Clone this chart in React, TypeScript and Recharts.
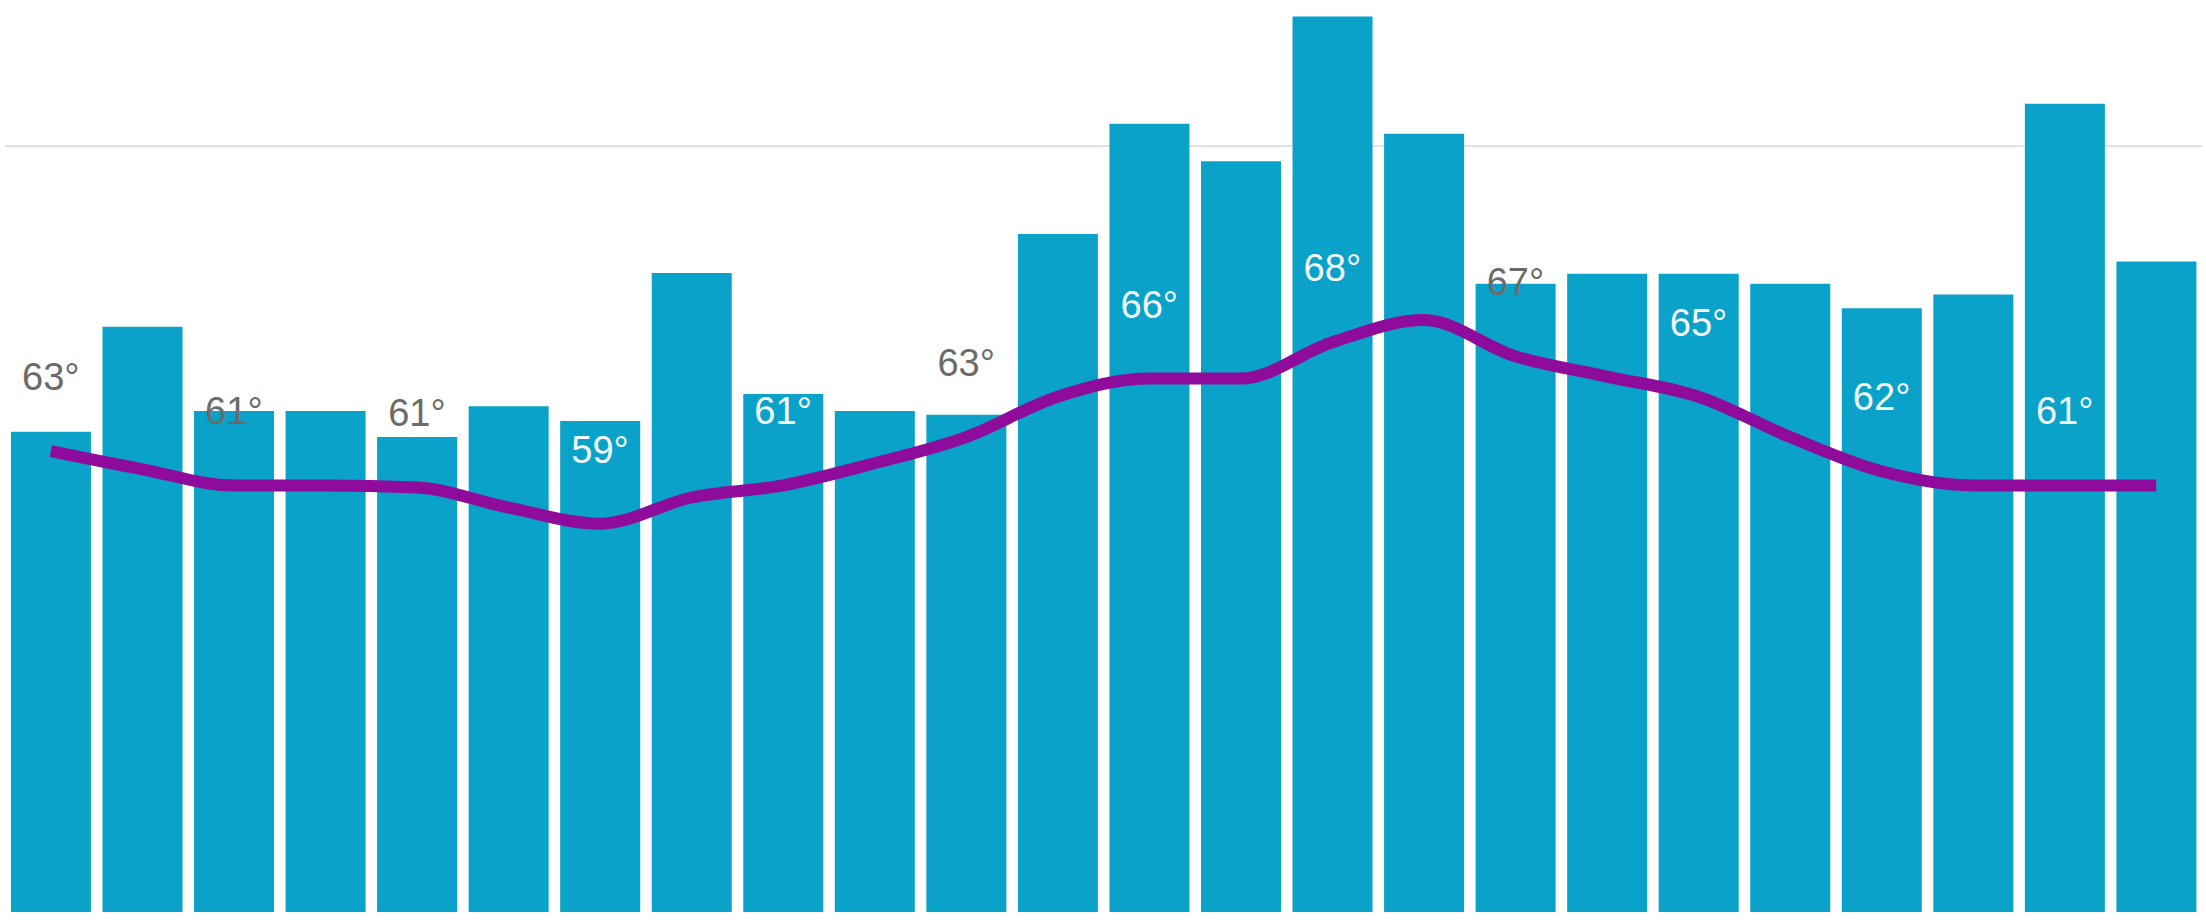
import { ComposedChart, Bar, Line, XAxis, YAxis, CartesianGrid, LabelList } from 'recharts';

// hourly categories (no axis shown in the picture)
const hours = [
  '1 PM', '2 PM', '3 PM', '4 PM', '5 PM', '6 PM', '7 PM', '8 PM', '9 PM', '10 PM', '11 PM', '12 AM',
  '1 AM', '2 AM', '3 AM', '4 AM', '5 AM', '6 AM', '7 AM', '8 AM', '9 AM', '10 AM', '11 AM', '12 PM',
];

// bar heights (grid line = 100)
const barValues = [
  62.7, 76.4, 65.4, 65.4, 62.0, 66.0, 64.1, 83.4, 67.6, 65.4, 64.9, 88.5,
  102.9, 98.0, 116.9, 101.6, 82.0, 83.3, 83.3, 82.0, 78.8, 80.6, 105.5, 84.9,
];

// temperature line (°F)
const temps = [
  62.7, 61.8, 61.0, 61.0, 60.9, 59.9, 59.1, 60.4, 61.0, 62.1, 63.4, 65.4,
  66.3, 66.3, 68.1, 69.2, 67.4, 66.4, 65.4, 63.4, 61.7, 61.0, 61.0, 61.0,
];

const gridTicks = [100];

const data = hours.map((hour, i) => ({ hour, bar: barValues[i], temp: temps[i] }));

const WIDTH = 2206;
const HEIGHT = 922;
const MARGIN = { top: 8, right: 4, bottom: 10, left: 5 };
const BAR_MAX = 118;
const TEMP_DOMAIN: [number, number] = [39.84, 84.68];

const PLOT_TOP = MARGIN.top;
const PLOT_BOTTOM = HEIGHT - MARGIN.bottom;

const renderTempLabel = (props: any) => {
  const { x, y, value, index } = props;
  if (index % 2 !== 0) return null;
  const baseline = y - 61;
  // white text when it sits fully inside the bar, grey otherwise
  const barTop = PLOT_BOTTOM - (barValues[index] / BAR_MAX) * (PLOT_BOTTOM - PLOT_TOP);
  const inside = baseline - 27 >= barTop;
  return (
    <text
      key={`lbl-${index}`}
      x={x}
      y={baseline}
      textAnchor="middle"
      fill={inside ? '#f4fbff' : '#6b6b6b'}
      fontSize={38}
      fontFamily="'Liberation Sans', Arial, sans-serif"
    >
      {Math.round(value)}°
    </text>
  );
};

export default function App() {
  return (
    <div style={{ position: 'absolute', left: 0, top: 0, background: '#fff' }}>
      <ComposedChart width={WIDTH} height={HEIGHT} data={data} margin={MARGIN} barCategoryGap="6.5%">
        <CartesianGrid vertical={false} syncWithTicks stroke="#e2e2e2" strokeWidth={2} />
        <XAxis dataKey="hour" hide />
        <YAxis domain={[0, BAR_MAX]} ticks={gridTicks} hide />
        <YAxis yAxisId="temp" domain={TEMP_DOMAIN} hide />
        <Bar dataKey="bar" fill="#0ba2c9" isAnimationActive={false} />
        <Line
          yAxisId="temp"
          type="monotone"
          dataKey="temp"
          stroke="#8f0b9b"
          strokeWidth={12}
          dot={false}
          activeDot={false}
          isAnimationActive={false}
        >
          <LabelList dataKey="temp" content={renderTempLabel} />
        </Line>
      </ComposedChart>
    </div>
  );
}
